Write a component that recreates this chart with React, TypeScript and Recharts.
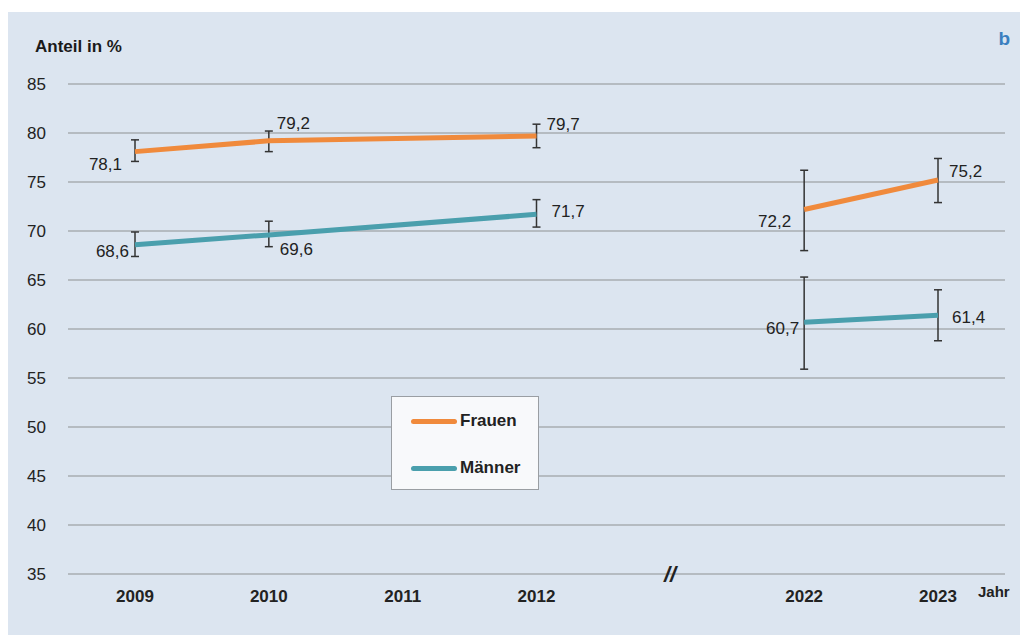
import { LineChart, Line, XAxis, YAxis, CartesianGrid, ErrorBar, LabelList } from "recharts"

const years = ["2009", "2010", "2011", "2012", "", "2022", "2023"]

const frauen = [78.1, 79.2, null, 79.7, null, 72.2, 75.2]
const frauenLow = [77.1, 78.1, null, 78.5, null, 68.0, 72.9]
const frauenHigh = [79.3, 80.2, null, 80.9, null, 76.2, 77.4]

const maenner = [68.6, 69.6, null, 71.7, null, 60.7, 61.4]
const maennerLow = [67.4, 68.4, null, 70.4, null, 55.9, 58.8]
const maennerHigh = [69.9, 71.0, null, 73.2, null, 65.3, 64.0]

const yTicks = [35, 40, 45, 50, 55, 60, 65, 70, 75, 80, 85]

const ORANGE = "#f08a3c"
const TEAL = "#4a9fad"
const FONT = "'Liberation Sans', Arial, sans-serif"

const breakIndex = years.indexOf("")

const err = (v: number | null, lo: number | null, hi: number | null) =>
  v == null || lo == null || hi == null ? null : [+(v - lo).toFixed(2), +(hi - v).toFixed(2)]

const rows = years.map((year, i) => ({
  year,
  fEarly: i < breakIndex ? frauen[i] : null,
  fLate: i > breakIndex ? frauen[i] : null,
  mEarly: i < breakIndex ? maenner[i] : null,
  mLate: i > breakIndex ? maenner[i] : null,
  fErr: err(frauen[i], frauenLow[i], frauenHigh[i]),
  mErr: err(maenner[i], maennerLow[i], maennerHigh[i]),
}))

// label placement per category index: [dx, dy, anchor]
type Place = [number, number, "start" | "end"]
const frauenPlace: Record<number, Place> = {
  0: [-13, 13, "end"],
  1: [8, -17, "start"],
  3: [10, -11, "start"],
  5: [-13, 12, "end"],
  6: [11, -9, "start"],
}
const maennerPlace: Record<number, Place> = {
  0: [-6, 7, "end"],
  1: [11, 15, "start"],
  3: [15, -3, "start"],
  5: [-5, 6, "end"],
  6: [14, 2, "start"],
}

const makeLabel = (place: Record<number, Place>) => (props: any) => {
  const { x, y, value, index } = props
  if (value == null || !place[index]) return null
  const [dx, dy, anchor] = place[index]
  return (
    <text
      x={x + dx}
      y={y + dy}
      textAnchor={anchor}
      dominantBaseline="central"
      fontSize={17}
      fontFamily={FONT}
      fill="#222"
    >
      {String(value).replace(".", ",")}
    </text>
  )
}

const XTick = (props: any) => {
  const { x, y, payload } = props
  if (!payload.value) return null
  return (
    <text x={x} y={y + 20} textAnchor="middle" fontSize={17} fontWeight="bold" fontFamily={FONT} fill="#222">
      {payload.value}
    </text>
  )
}

function LegendBox() {
  const item = (color: string, label: string) => (
    <div style={{ display: "flex", alignItems: "center", height: 24 }}>
      <div style={{ width: 46, height: 5, borderRadius: 3, background: color, marginRight: 3 }} />
      <span style={{ fontFamily: FONT, fontWeight: "bold", fontSize: 17, color: "#222" }}>{label}</span>
    </div>
  )
  return (
    <div
      style={{
        position: "absolute",
        left: 391,
        top: 396,
        width: 148,
        height: 94,
        boxSizing: "border-box",
        background: "#f8f9fb",
        border: "1.5px solid #9a9ea3",
        padding: "12px 0 0 19px",
        display: "flex",
        flexDirection: "column",
        gap: 23,
      }}
    >
      {item(ORANGE, "Frauen")}
      {item(TEAL, "Männer")}
    </div>
  )
}

export default function App() {
  return (
    <div style={{ position: "absolute", left: 0, top: 0, width: 1020, height: 635, background: "#ffffff", overflow: "hidden" }}>
      <div style={{ position: "absolute", left: 8, top: 12, width: 1012, height: 623, background: "#dce5f0" }} />
      <div style={{ position: "absolute", left: 0, top: 0 }}>
        <LineChart width={1020} height={635} data={rows} margin={{ top: 84, right: 15, bottom: 21, left: 8 }}>
          <CartesianGrid vertical={false} stroke="#a9adb2" strokeWidth={1.5} />
          <XAxis
            dataKey="year"
            scale="point"
            padding={{ left: 67, right: 67 }}
            axisLine={false}
            tickLine={false}
            height={40}
            interval={0}
            tick={<XTick />}
          />
          <YAxis
            domain={[35, 85]}
            ticks={yTicks}
            allowDataOverflow
            width={60}
            axisLine={false}
            tickLine={false}
            tickMargin={16}
            tick={{ fontSize: 17, fill: "#222", fontFamily: FONT }}
          />
          <Line dataKey="fEarly" stroke={ORANGE} strokeWidth={5} dot={false} activeDot={false} connectNulls isAnimationActive={false}>
            <ErrorBar dataKey="fErr" direction="y" width={4} stroke="#333" strokeWidth={1.5} />
            <LabelList dataKey="fEarly" content={makeLabel(frauenPlace)} />
          </Line>
          <Line dataKey="fLate" stroke={ORANGE} strokeWidth={5} dot={false} activeDot={false} isAnimationActive={false}>
            <ErrorBar dataKey="fErr" direction="y" width={4} stroke="#333" strokeWidth={1.5} />
            <LabelList dataKey="fLate" content={makeLabel(frauenPlace)} />
          </Line>
          <Line dataKey="mEarly" stroke={TEAL} strokeWidth={5} dot={false} activeDot={false} connectNulls isAnimationActive={false}>
            <ErrorBar dataKey="mErr" direction="y" width={4} stroke="#333" strokeWidth={1.5} />
            <LabelList dataKey="mEarly" content={makeLabel(maennerPlace)} />
          </Line>
          <Line dataKey="mLate" stroke={TEAL} strokeWidth={5} dot={false} activeDot={false} isAnimationActive={false}>
            <ErrorBar dataKey="mErr" direction="y" width={4} stroke="#333" strokeWidth={1.5} />
            <LabelList dataKey="mLate" content={makeLabel(maennerPlace)} />
          </Line>
          <text x={35} y={46} dominantBaseline="central" fontSize={17} fontWeight="bold" fontFamily={FONT} fill="#1a1a1a">
            Anteil in %
          </text>
          <text x={1010} y={38} textAnchor="end" dominantBaseline="central" fontSize={19} fontWeight="bold" fontFamily={FONT} fill="#3a7fc0">
            b
          </text>
          <text x={978} y={591} dominantBaseline="central" fontSize={15} fontWeight="bold" fontFamily={FONT} fill="#222">
            Jahr
          </text>
          <text x={670} y={574} textAnchor="middle" dominantBaseline="central" fontSize={22} fontWeight="bold" fontStyle="italic" fontFamily={FONT} fill="#222">
            //
          </text>
        </LineChart>
      </div>
      <LegendBox />
    </div>
  )
}
